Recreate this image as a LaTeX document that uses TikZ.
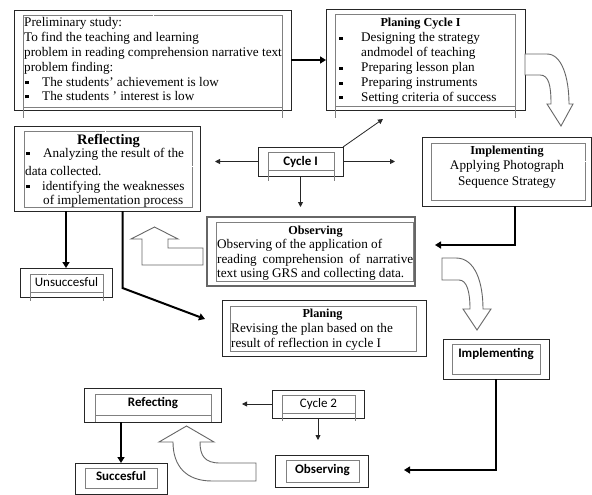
\documentclass[tikz,border=0pt]{standalone}
\usepackage{fontspec}
\setmainfont{Liberation Serif}
\newfontfamily\calfont{Carlito}
\usetikzlibrary{arrows.meta,calc}
\newcommand\sqb{\rule[2pt]{3.5pt}{3.5pt}}
\newcommand\boxat[6][]{\node[#1, minimum width={(#5-#3)*1pt}, minimum height={(#6-#4)*1pt}] (#2) at ({(#3+#5)/2},{(#4+#6)/2}) {};}
\newcommand\tline[3]{\node[txt, anchor=base west] (#1) at (#2) {#3};}
\newcommand\tmid[3]{\node[txt, anchor=base] (#1) at (#2) {#3};}
\newcommand\bmid[3]{\node[btxt, anchor=base] (#1) at (#2) {#3};}
\newcommand\smid[3]{\node[stxt, anchor=base] (#1) at (#2) {#3};}
\tikzset{
  obox/.style={draw=black!85, line width=0.9pt, inner sep=0pt, outer sep=0pt, rectangle},
  gbox/.style={draw=black!60, line width=1.5pt, inner sep=0pt, outer sep=0pt, rectangle},
  ibox/.style={draw=black!50, dash pattern=on 0.5pt off 0.5pt, line width=0.6pt, inner sep=0pt, outer sep=0pt, rectangle},
  iline/.style={draw=black!50, dash pattern=on 0.5pt off 0.5pt, line width=0.6pt},
  txt/.style={inner sep=0pt, font=\fontsize{13.2}{15}\selectfont, text=black},
  btxt/.style={inner sep=0pt, font=\fontsize{12.2}{15}\selectfont\bfseries, text=black},
  stxt/.style={inner sep=0pt, font=\calfont\fontsize{13}{15}\selectfont, text=black},
  thinarr/.style={draw=black!85, line width=0.8pt, -{Triangle[length=5pt,width=5pt]}},
  thickarr/.style={draw=black, line width=2pt, -{Triangle[length=6pt,width=7pt]}},
  hollow/.style={draw=black!60, line width=0.9pt, fill=white, line join=miter}
}
\begin{document}
\begin{tikzpicture}[x=1pt,y=-1pt]
\useasboundingbox (0,0) rectangle (592,495);
\fill[white] (0,0) rectangle (592,495);

% ---------- Preliminary study ----------
\boxat[obox]{prelim}{14}{10}{291}{110}
\boxat[ibox]{prelimI}{23}{15}{282}{107}
\draw[iline] (prelimI.south west) -- ++(0,11);
\draw[iline] (prelimI.south east) -- ++(0,11);
\tline{p1}{24,27}{Preliminary study:}
\tline{p2}{24,42}{To find the teaching and learning}
\tline{p3}{24,56.5}{problem in reading comprehension narrative text}
\tline{p4}{24,71}{problem finding:}
\tline{p5}{25,86}{\makebox[17pt][l]{\sqb}The students' achievement  is low}
\tline{p6}{25,100.5}{\makebox[17pt][l]{\sqb}The students ' interest is low}

% ---------- Planing Cycle I ----------
\boxat[obox]{plan1}{326}{9}{525}{110}
\boxat[ibox]{plan1I}{335}{14}{515}{106}
\draw[iline] (plan1I.south west) -- ++(0,12);
\draw[iline] (plan1I.south east) -- ++(0,12);
\bmid{q0}{420.5,27}{Planing Cycle I}
\tline{q1}{339,42}{\makebox[22pt][l]{\sqb}Designing  the strategy}
\tline{q2}{361,57}{andmodel of teaching}
\tline{q3}{339,72}{\makebox[22pt][l]{\sqb}Preparing lesson plan}
\tline{q4}{339,87}{\makebox[22pt][l]{\sqb}Preparing instruments}
\tline{q5}{339,101}{\makebox[22pt][l]{\sqb}Setting criteria  of success}

% ---------- Reflecting ----------
\boxat[obox]{refl}{14}{126}{200}{211}
\boxat[ibox]{reflI}{24}{131}{192}{207}
\node[txt, anchor=base, font=\fontsize{14.5}{16}\selectfont\bfseries] (r0) at (108.5,144) {Reflecting};
\tline{r1}{26,157}{\makebox[17pt][l]{\sqb}Analyzing the result  of the}
\tline{r2}{25,175}{data collected.}
\tline{r3}{26,190}{\makebox[16pt][l]{\sqb}identifying the weaknesses}
\tline{r4}{43,204}{of implementation process}

% ---------- Cycle I ----------
\boxat[obox]{cyc1}{258}{147}{343}{176}
\boxat[ibox]{cyc1I}{268}{152}{334}{170}
\draw[iline] (cyc1I.south west) -- ++(0,11);
\draw[iline] (cyc1I.south east) -- ++(0,11);
\smid{c1t}{300.5,165.5}{\textbf{Cycle I}}

% ---------- Implementing ----------
\boxat[obox]{impl}{422}{137}{591}{206}
\boxat[ibox]{implI}{431}{143}{585}{200}
\bmid{i0}{507,154}{Implementing}
\tmid{i1}{507,169}{Applying Photograph}
\tmid{i2}{507,185}{Sequence Strategy}

% ---------- Observing ----------
\boxat[gbox]{obs}{207}{217}{415}{286}
\boxat[ibox]{obsI}{216}{222}{413}{281}
\bmid{o0}{315.5,234}{Observing}
\tline{o1}{217,248}{Observing of the application of}
\tline{o2}{217,263}{\makebox[196pt][s]{reading comprehension of narrative}}
\tline{o3}{217,277}{text using GRS and collecting data.}

% ---------- Unsuccesful ----------
\boxat[obox]{unsucc}{20}{268}{112}{297}
\boxat[ibox]{unsuccI}{30}{274}{103}{292}
\draw[iline] (unsuccI.south west) -- ++(0,9);
\draw[iline] (unsuccI.south east) -- ++(0,9);
\smid{u0}{66.5,286}{Unsuccesful}

% ---------- Planing ----------
\boxat[obox]{plan2}{222}{300}{426}{356}
\boxat[ibox]{plan2I}{230}{306}{416}{351}
\bmid{l0}{322.5,317}{Planing}
\tline{l1}{231,332}{Revising the plan based on the}
\tline{l2}{231,347}{result of reflection in cycle I}

% ---------- Implementing 2 ----------
\boxat[obox]{impl2}{443}{339}{549}{379}
\boxat[ibox]{impl2I}{452}{344}{540}{374}
\smid{m0}{496,357}{\textbf{Implementing}}

% ---------- Cycle 2 ----------
\boxat[obox]{cyc2}{272}{390}{364}{418}
\boxat[ibox]{cyc2I}{282}{395}{355}{413}
\draw[iline] (cyc2I.south west) -- ++(0,8);
\draw[iline] (cyc2I.south east) -- ++(0,8);
\smid{c2t}{318.5,407}{Cycle 2}

% ---------- Refecting ----------
\boxat[obox]{refc}{84}{388}{221}{422}
\boxat[ibox]{refcI}{95}{394}{211}{415}
\draw[iline] (refcI.south west) -- ++(0,7);
\draw[iline] (refcI.south east) -- ++(0,7);
\smid{f0}{153,406}{\textbf{Refecting}}

% ---------- Observing 2 ----------
\boxat[obox]{obs2}{275}{455}{368}{487}
\boxat[ibox]{obs2I}{286}{460}{359}{482}
\smid{b0}{322.5,473}{\textbf{Observing}}

% ---------- Succesful ----------
\boxat[obox]{succ}{75}{463}{167}{494}
\boxat[ibox]{succI}{85}{468}{157}{488}
\smid{s0}{121,480}{\textbf{Succesful}}

% ---------- connectors ----------
\draw[thickarr] (prelim.east) -- (prelim.east -| plan1.west);

\coordinate (cL) at (215,161.5);
\coordinate (cR) at (395,161.5);
\coordinate (cU) at (383,119);
\coordinate (cD) at (300.5,207);
\draw[thinarr] (cyc1.west) -- (cL);
\draw[thinarr] (cyc1.east) -- (cR);
\draw[thinarr] (cyc1.north east) -- (cU);
\draw[thinarr] (cyc1.south) -- (cD);

\coordinate (obsT) at (435,245);
\draw[thickarr] ([xshift=8.5pt]impl.south) |- (obsT);

\draw[thickarr] (refl.south -| unsucc.north) -- (unsucc.north);
\coordinate (rbend) at (122.5,288);
\coordinate (planT) at (205,319);
\draw[thickarr] ([xshift=15.5pt]refl.south) -- (rbend) -- (planT);

\coordinate (obs2T) at (404,470);
\draw[thickarr] (impl2.south) |- (obs2T);

\coordinate (c2L) at (242,404);
\coordinate (c2D) at (318,440);
\draw[thinarr] (cyc2.west) -- (c2L);
\draw[thinarr] (cyc2.south) -- (c2D);

\draw[thickarr] (refc.south -| succ.north) -- (succ.north);

% ---------- hollow arrows ----------
\draw[hollow] (525,54) -- (547,54) .. controls (562,54) and (569,78) .. (569,104)
  -- (573,104) -- (561,126) -- (547,104) -- (551,104)
  .. controls (551,86) and (549,75) .. (540,75) -- (525,75) -- cycle;

\draw[hollow] (442,258) -- (456,258) .. controls (475,258) and (483,282) .. (483,309)
  -- (491,309) -- (477,330) -- (463,309) -- (470,309)
  .. controls (470,292) and (467,280) .. (459,280) -- (442,280) -- cycle;

\draw[hollow] (203,248) -- (168,248) -- (168,239) -- (178,239) -- (154.5,227)
  -- (131,239) -- (142,239) -- (142,265) -- (203,265) -- cycle;

\draw[hollow] (256,481) -- (212,481) .. controls (186,481) and (173,466) .. (173,442)
  -- (159,442) -- (186.5,426) -- (214,442) -- (200,442)
  .. controls (200,456) and (205,463) .. (220,463) -- (256,463) -- cycle;
\end{tikzpicture}
\end{document}
